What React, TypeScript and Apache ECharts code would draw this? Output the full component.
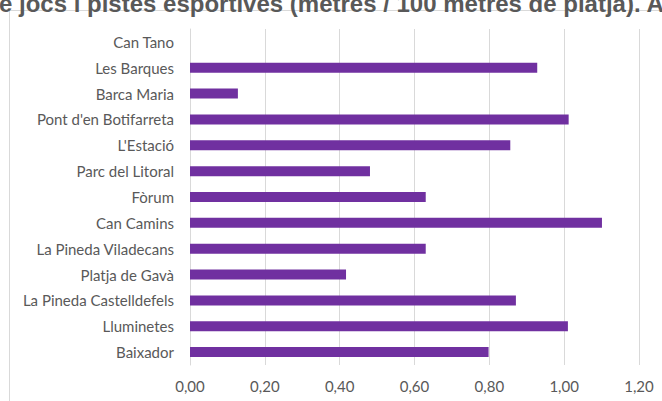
import React, { useEffect, useRef } from "react";
import * as echarts from "echarts";

const categories = [
  "Can Tano",
  "Les Barques",
  "Barca Maria",
  "Pont d'en Botifarreta",
  "L'Estació",
  "Parc del Litoral",
  "Fòrum",
  "Can Camins",
  "La Pineda Viladecans",
  "Platja de Gavà",
  "La Pineda Castelldefels",
  "Lluminetes",
  "Baixador",
];

const values = [0, 0.928, 0.128, 1.012, 0.856, 0.481, 0.63, 1.101, 0.63, 0.417, 0.871, 1.01, 0.798];

const titleText = "e jocs i pistes esportives (metres / 100 metres de platja). A";

export default function App() {
  const ref = useRef<HTMLDivElement>(null);
  useEffect(() => {
    if (!ref.current) return;
    const chart = echarts.init(ref.current, null, { renderer: "svg" });
    chart.setOption({
      animation: false,
      backgroundColor: "#ffffff",
      graphic: [
        {
          type: "rect",
          shape: { x: 9.5, y: 10.5, width: 700, height: 420 },
          style: { fill: "none", stroke: "#d9d9d9", lineWidth: 1 },
          z: 0,
        },
        {
          type: "text",
          x: -1,
          y: -9,
          style: {
            text: titleText,
            fill: "#595959",
            font: "bold 24px 'Liberation Sans', Arial, sans-serif",
            textAlign: "left",
            verticalAlign: "top",
          },
          z: 10,
        },
      ],
      grid: { left: 190, right: 23, top: 29, bottom: 36, containLabel: false },
      xAxis: {
        type: "value",
        min: 0,
        max: 1.2,
        interval: 0.2,
        axisLine: { show: false },
        axisTick: { show: false },
        splitLine: { lineStyle: { color: "#d9d9d9", width: 1 } },
        axisLabel: {
          color: "#595959",
          fontSize: 15,
          fontFamily: "Lato",
          margin: 13,
          formatter: (v: number) => v.toFixed(2).replace(".", ","),
        },
      },
      yAxis: {
        type: "category",
        data: categories,
        inverse: true,
        axisLine: { show: true, lineStyle: { color: "#d9d9d9", width: 1 } },
        axisTick: { show: false },
        axisLabel: { color: "#595959", fontSize: 15, fontFamily: "Lato", margin: 16 },
      },
      series: [
        {
          type: "bar",
          data: values,
          barWidth: 10,
          itemStyle: { color: "#7030A0" },
        },
      ],
    });
    return () => chart.dispose();
  }, []);
  return (
    <div
      ref={ref}
      style={{ position: "absolute", left: 0, top: 0, width: 662, height: 401 }}
    />
  );
}
